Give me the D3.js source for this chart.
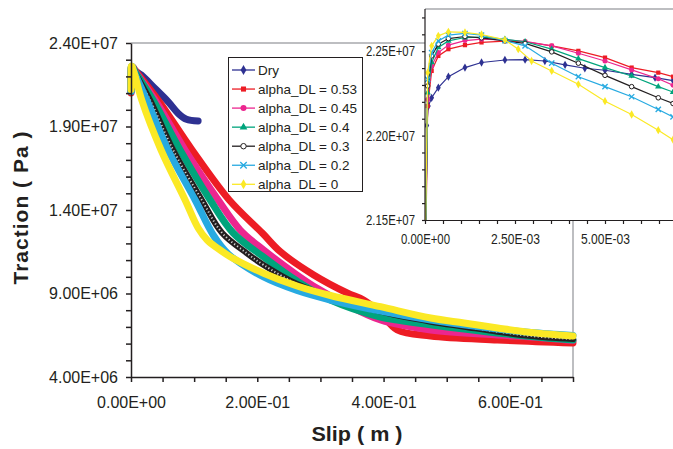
<!DOCTYPE html>
<html>
<head>
<meta charset="utf-8">
<script src="https://cdn.jsdelivr.net/npm/d3@7"></script>
<style>
  body { margin: 0; background: #fff; }
  svg { display: block; font-family: "Liberation Sans", Arial, sans-serif; }
</style>
</head>
<body>
<div id="chart"></div>
<script>
// series : [slip (m), traction (Pa)]
var dry = [[0, 2.12e7], [0.00005, 2.206e7], [0.000093, 2.2175e7], [0.000185, 2.2224e7], [0.00037, 2.2284e7], [0.00065, 2.2349e7], [0.00111, 2.2403e7], [0.00157, 2.2433e7], [0.00222, 2.2448e7], [0.00278, 2.245e7], [0.00333, 2.2442e7], [0.00389, 2.2419e7], [0.00444, 2.2399e7], [0.005, 2.2387e7], [0.00574, 2.2363e7], [0.00639, 2.2343e7], [0.00689, 2.2326e7],
  [0.0164, 2.208e7], [0.0376, 2.129e7], [0.0587, 2.049e7], [0.0746, 1.979e7], [0.0878, 1.943e7], [0.1063, 1.933e7]];
var a053 = [[0, 2.10e7], [0.000074, 2.2175e7], [0.000185, 2.2383e7], [0.00037, 2.2472e7], [0.00065, 2.2512e7], [0.00111, 2.2536e7], [0.00157, 2.2552e7], [0.00222, 2.256e7], [0.00278, 2.2556e7], [0.00352, 2.2532e7], [0.00426, 2.2502e7], [0.005, 2.2462e7], [0.00574, 2.2403e7], [0.00648, 2.2373e7], [0.00689, 2.2349e7],
  [0.0429, 2.0587e7], [0.0968, 1.7593e7], [0.1556, 1.4599e7], [0.2079, 1.262e7], [0.2365, 1.1503e7], [0.2894, 1.0108e7], [0.3424, 9.03e6], [0.3683, 8.611e6], [0.3952, 7.832e6], [0.4217, 6.814e6], [0.4746, 6.455e6], [0.5805, 6.216e6], [0.70, 6.036e6]];
var a045 = [[0, 2.11e7], [0.000074, 2.2214e7], [0.000185, 2.2413e7], [0.00037, 2.2492e7], [0.00065, 2.2536e7], [0.00111, 2.2563e7], [0.00157, 2.2571e7], [0.00222, 2.2567e7], [0.00278, 2.2558e7], [0.00352, 2.2532e7], [0.00426, 2.2488e7], [0.005, 2.2442e7], [0.00574, 2.2389e7], [0.00648, 2.2337e7], [0.00689, 2.2298e7],
  [0.0381, 2.0587e7], [0.0857, 1.7593e7], [0.1381, 1.4599e7], [0.173, 1.2802e7], [0.21, 1.1605e7], [0.263, 1.0108e7], [0.2948, 9.311e6], [0.3424, 8.311e6], [0.3952, 7.413e6], [0.4746, 6.814e6], [0.5805, 6.515e6], [0.6333, 6.395e6], [0.70, 6.186e6]];
var a04 = [[0, 2.11e7], [0.000074, 2.2254e7], [0.000185, 2.2433e7], [0.00037, 2.2522e7], [0.00065, 2.2561e7], [0.00111, 2.2581e7], [0.00157, 2.2583e7], [0.00222, 2.2571e7], [0.00278, 2.2556e7], [0.00352, 2.2512e7], [0.00426, 2.2456e7], [0.005, 2.2403e7], [0.00574, 2.2353e7], [0.00648, 2.229e7], [0.00689, 2.2258e7],
  [0.0349, 2.0587e7], [0.0778, 1.7593e7], [0.1254, 1.4599e7], [0.1619, 1.2623e7], [0.21, 1.1186e7], [0.263, 9.749e6], [0.3159, 8.611e6], [0.3952, 7.593e6], [0.4217, 7.413e6], [0.5275, 6.874e6], [0.6333, 6.425e6], [0.70, 6.216e6]];
var a03 = [[0, 2.11e7], [0.000074, 2.2294e7], [0.000185, 2.2472e7], [0.00037, 2.2542e7], [0.00065, 2.2575e7], [0.00111, 2.2587e7], [0.00157, 2.2579e7], [0.00222, 2.2561e7], [0.00278, 2.2546e7], [0.00352, 2.2496e7], [0.00426, 2.2429e7], [0.005, 2.2357e7], [0.00574, 2.229e7], [0.00648, 2.2224e7], [0.00689, 2.219e7],
  [0.0302, 2.0587e7], [0.0667, 1.7593e7], [0.1122, 1.4599e7], [0.1444, 1.2623e7], [0.1837, 1.1407e7], [0.21, 1.0707e7], [0.263, 9.569e6], [0.3159, 8.809e6], [0.3952, 7.91e6], [0.4746, 7.311e6], [0.5275, 7.012e6], [0.5805, 6.713e6], [0.6333, 6.455e6], [0.70, 6.276e6]];
var a02 = [[0, 2.11e7], [0.000074, 2.2333e7], [0.000185, 2.2492e7], [0.00037, 2.2561e7], [0.00065, 2.2595e7], [0.00111, 2.2605e7], [0.00157, 2.2595e7], [0.00222, 2.2563e7], [0.00278, 2.2532e7], [0.00352, 2.2429e7], [0.00426, 2.2349e7], [0.005, 2.229e7], [0.00574, 2.223e7], [0.00648, 2.2155e7], [0.00689, 2.2111e7],
  [0.0249, 2.0587e7], [0.0587, 1.7593e7], [0.1016, 1.4599e7], [0.1302, 1.2503e7], [0.154, 1.1365e7], [0.21, 9.988e6], [0.263, 9.18e6], [0.3159, 8.611e6], [0.3952, 7.952e6], [0.4746, 7.413e6], [0.5805, 6.874e6], [0.6333, 6.665e6], [0.70, 6.485e6]];
var a0 = [[0, 2.12e7], [0.000074, 2.2373e7], [0.000185, 2.2532e7], [0.00037, 2.2591e7], [0.00065, 2.2615e7], [0.00111, 2.2611e7], [0.00157, 2.2599e7], [0.00222, 2.2567e7], [0.00259, 2.2512e7], [0.00296, 2.2442e7], [0.00352, 2.2383e7], [0.00426, 2.2304e7], [0.005, 2.2204e7], [0.00574, 2.2125e7], [0.00648, 2.2032e7], [0.00689, 2.1976e7],
  [0.017, 2.0587e7], [0.0476, 1.7593e7], [0.0857, 1.4599e7], [0.1063, 1.2922e7], [0.1206, 1.2204e7], [0.1365, 1.1725e7], [0.1571, 1.1204e7], [0.21, 1.021e7], [0.263, 9.449e6], [0.3159, 8.88e6], [0.3952, 8.21e6], [0.4746, 7.533e6], [0.5275, 7.234e6], [0.5805, 6.934e6], [0.6333, 6.665e6], [0.70, 6.455e6]];

var seriesNames = ["Dry", "alpha_DL = 0.53", "alpha_DL = 0.45", "alpha_DL = 0.4", "alpha_DL = 0.3", "alpha_DL = 0.2", "alpha_DL = 0"];
var seriesData = [dry, a053, a045, a04, a03, a02, a0];
var seriesColors = ["#2e3192", "#ed1c24", "#ec268f", "#00a47c", "#231f20", "#27aae1", "#fbe925"];

// tick labels
var mainXLabelValues = [0, 0.2, 0.4, 0.6];
var mainXLabels = ["0.00E+00", "2.00E-01", "4.00E-01", "6.00E-01"];
var mainYLabelValues = [4e6, 9e6, 1.4e7, 1.9e7, 2.4e7];
var mainYLabels = ["4.00E+06", "9.00E+06", "1.40E+07", "1.90E+07", "2.40E+07"];
var insetXLabelValues = [0, 0.0025, 0.005];
var insetXLabels = ["0.00E+00", "2.50E-03", "5.00E-03"];
var insetYLabelValues = [2.15e7, 2.2e7, 2.25e7];
var insetYLabels = ["2.15E+07", "2.20E+07", "2.25E+07"];

var W = 673, H = 449;
var axisColor = "#231f20", frameGray = "#a7a9ac";

var svg = d3.select("#chart").append("svg").attr("width", W).attr("height", H);

function labelFor(values, labels) {
	return function(d) {
		var i = values.findIndex(function(v) { return Math.abs(v - d) < 1e-9 * Math.max(1, Math.abs(v)); });
		return i < 0 ? "" : labels[i];
	};
}

//####################################################################################################################
// MAIN CHART
//####################################################################################################################
var x = d3.scaleLinear().domain([0, 0.7]).range([131, 573]);
var y = d3.scaleLinear().domain([4e6, 2.4e7]).range([377, 43]);

// plot frame (top + right, gray)
svg.append("line").attr("x1", 131).attr("x2", 573).attr("y1", 43).attr("y2", 43).style("stroke", frameGray).style("stroke-width", 1.5);
svg.append("line").attr("x1", 573).attr("x2", 573).attr("y1", 43).attr("y2", 377).style("stroke", frameGray).style("stroke-width", 1.5);

var line = d3.line().x(function(d) { return x(d[0]); }).y(function(d) { return y(d[1]); }).curve(d3.curveCatmullRom.alpha(0.5));

seriesData.forEach(function(s, i) {
	svg.append("path").attr("d", line(s)).style("fill", "none").style("stroke", seriesColors[i])
		.style("stroke-width", i == 4 ? 6 : 7).style("stroke-linejoin", "round").style("stroke-linecap", "round");
	if (i == 4) {
		// the open circle markers make the black band look hatched
		svg.append("path").attr("d", line(s)).style("fill", "none").style("stroke", "#fff")
			.style("stroke-width", 2).style("stroke-dasharray", "1.2,2.3").style("opacity", 0.8);
	}
});

var yAxis = svg.append("g").attr("transform", "translate(131,0)")
	.call(d3.axisLeft(y).tickValues(d3.range(4e6, 2.4e7 + 1, 1e6)).tickSize(5).tickSizeOuter(0).tickPadding(8)
		.tickFormat(labelFor(mainYLabelValues, mainYLabels)));
var xAxis = svg.append("g").attr("transform", "translate(0,377)")
	.call(d3.axisBottom(x).tickValues(d3.range(0, 0.7001, 0.05)).tickSize(5).tickSizeOuter(0).tickPadding(15)
		.tickFormat(labelFor(mainXLabelValues, mainXLabels)));
[yAxis, xAxis].forEach(function(g) {
	g.selectAll("path, line").style("stroke", axisColor).style("stroke-width", 1.5);
	g.selectAll("text").style("font-size", "16px").style("fill", axisColor).style("font-family", "Liberation Sans, Arial, sans-serif");
});

svg.append("text").attr("x", 357).attr("y", 441).attr("text-anchor", "middle")
	.attr("textLength", 91).attr("lengthAdjust", "spacingAndGlyphs")
	.style("font-size", "21px").style("font-weight", "bold").style("fill", axisColor).text("Slip ( m )");
svg.append("text").attr("transform", "translate(28,208) rotate(-90)").attr("text-anchor", "middle")
	.attr("textLength", 153).attr("lengthAdjust", "spacing")
	.style("font-size", "21px").style("font-weight", "bold").style("fill", axisColor).text("Traction ( Pa )");

//####################################################################################################################
// MARKERS
//####################################################################################################################
var timesSymbol = d3.symbolTimes || d3.symbolX || d3.symbolCross;
var markerShapes = [d3.symbolDiamond, d3.symbolSquare, d3.symbolCircle, d3.symbolTriangle, d3.symbolCircle, timesSymbol, d3.symbolDiamond];

function DrawMarker(g, i, cx, cy, scale) {
	var size = [22, 20, 22, 20, 18, 22, 22][i] * scale;
	var p = g.append("path").attr("d", d3.symbol().type(markerShapes[i]).size(size)()).attr("transform", "translate(" + cx + "," + cy + ")");
	if (i == 4) p.style("fill", "#fff").style("stroke", seriesColors[i]).style("stroke-width", 1);
	else if (i == 5) p.style("fill", "none").style("stroke", seriesColors[i]).style("stroke-width", 1.3);
	else p.style("fill", seriesColors[i]);
	return p;
}

//####################################################################################################################
// LEGEND
//####################################################################################################################
var legend = svg.append("g");
legend.append("rect").attr("x", 228.5).attr("y", 57.5).attr("width", 134).attr("height", 134).style("fill", "#fff").style("stroke", axisColor).style("stroke-width", 1);
seriesNames.forEach(function(name, i) {
	var ly = 70 + i * 19.05;
	legend.append("line").attr("x1", 232).attr("x2", 255).attr("y1", ly).attr("y2", ly).style("stroke", seriesColors[i]).style("stroke-width", 1.3);
	DrawMarker(legend, i, 243.5, ly, 1.3);
	legend.append("text").attr("x", 258).attr("y", ly).attr("dy", "0.35em").style("font-size", "13.5px").style("fill", axisColor).text(name);
});

//####################################################################################################################
// INSET
//####################################################################################################################
var ix = d3.scaleLinear().domain([0, 0.0075]).range([425, 695]);
var iy = d3.scaleLinear().domain([2.15e7, 2.275e7]).range([220, 9]);

svg.append("rect").attr("x", 425).attr("y", 9).attr("width", 270).attr("height", 211).style("fill", "#fff");
svg.append("clipPath").attr("id", "insetClip").append("rect").attr("x", 425).attr("y", 8).attr("width", 270).attr("height", 212);
svg.append("line").attr("x1", 425).attr("x2", 695).attr("y1", 9).attr("y2", 9).style("stroke", frameGray).style("stroke-width", 1.5);

var inset = svg.append("g").attr("clip-path", "url(#insetClip)");
var iline = d3.line().x(function(d) { return ix(d[0]); }).y(function(d) { return iy(d[1]); });
seriesData.forEach(function(s, i) {
	var pts = s.filter(function(d) { return d[0] <= 0.0075; });
	inset.append("path").attr("d", iline(pts)).style("fill", "none").style("stroke", seriesColors[i]).style("stroke-width", 1.2);
	pts.forEach(function(d) { DrawMarker(inset, i, ix(d[0]), iy(d[1]), 0.9); });
});

var iyAxis = svg.append("g").attr("transform", "translate(425,0)")
	.call(d3.axisLeft(iy).tickValues(d3.range(2.15e7, 2.2705e7, 1e5)).tickSize(3).tickSizeOuter(0).tickPadding(7)
		.tickFormat(labelFor(insetYLabelValues, insetYLabels)));
var ixAxis = svg.append("g").attr("transform", "translate(0,220)")
	.call(d3.axisBottom(ix).tickValues(d3.range(0, 0.0075, 0.0005)).tickSize(4).tickSizeOuter(0).tickPadding(10)
		.tickFormat(labelFor(insetXLabelValues, insetXLabels)));
[iyAxis, ixAxis].forEach(function(g) {
	g.selectAll("path, line").style("stroke", axisColor).style("stroke-width", 1.2);
	g.selectAll("text").style("font-size", "14px").style("fill", axisColor).style("font-family", "Liberation Sans, Arial, sans-serif")
		.attr("lengthAdjust", "spacingAndGlyphs").attr("textLength", function() { return this.textContent ? 49 : null; });
});
iyAxis.select(".domain").attr("d", "M-0,220V9");
</script>
</body>
</html>
